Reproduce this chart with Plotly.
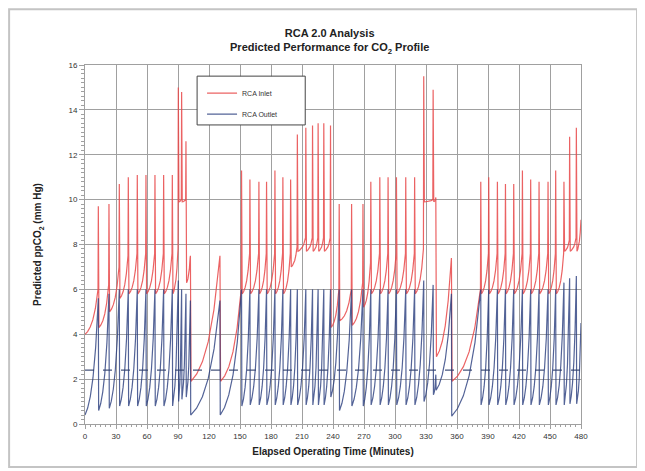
import plotly.graph_objects as go

# ---- Data ----
# Bed-switch events (minutes) and the values around each switch
switch_t = [12.9, 23.2, 33.2, 41.9, 50.6, 59.0, 67.7, 76.1, 84.5, 90.3, 93.5, 97.7, 102.0,
            130.6, 151.5, 159.6, 168.3, 175.7, 183.8, 191.5, 199.0, 205.5, 213.7, 220.2,
            225.6, 231.1, 237.6, 246.0, 258.0, 269.0, 276.6, 285.3, 293.3, 301.4, 310.4,
            319.0, 327.8, 336.9, 339.5, 354.6, 383.0, 390.7, 399.1, 406.9, 414.9, 423.3,
            431.3, 439.4, 448.1, 455.5, 463.5, 469.0, 475.5]
# inlet value just before the spike
inlet_pre = [6.0, 6.2, 7.0, 7.5, 7.6, 7.6, 7.6, 7.6, 7.6, 7.8, 10.0, 10.0, 7.4,
             7.4, 6.0, 7.6, 7.6, 7.6, 7.6, 7.6, 7.6, 7.9, 8.3, 8.3,
             8.3, 8.3, 8.3, 6.0, 6.0, 6.3, 7.2, 7.6, 7.6, 7.6, 7.6,
             7.6, 7.8, 10.0, 10.0, 7.3, 6.0, 7.6, 7.6, 7.6, 7.6, 7.6,
             7.6, 7.6, 7.6, 7.6, 7.6, 8.2, 8.3]
# inlet spike peak
inlet_peak = [9.7, 9.8, 10.7, 11.0, 11.1, 11.1, 11.1, 11.1, 11.1, 15.0, 14.8, 12.6, 7.5,
              7.5, 11.3, 10.9, 10.8, 10.8, 11.3, 11.0, 10.9, 12.9, 13.2, 13.3,
              13.4, 13.4, 13.3, 9.8, 9.8, 9.8, 10.8, 11.0, 11.0, 11.0, 11.0,
              11.0, 15.5, 14.9, 10.1, 7.4, 10.8, 11.0, 10.8, 10.7, 10.7, 11.3,
              10.9, 10.8, 10.8, 11.3, 10.8, 12.8, 13.2]
# inlet value just after the switch
inlet_floor = [4.3, 5.0, 5.6, 5.8, 5.8, 5.8, 5.8, 5.8, 5.8, 9.9, 9.9, 6.3, 1.9,
               1.9, 5.8, 5.8, 5.8, 5.8, 5.8, 5.8, 7.0, 7.7, 7.7, 7.7,
               7.7, 7.7, 4.3, 4.6, 4.4, 5.2, 5.8, 5.8, 5.8, 5.8, 5.8,
               5.8, 9.9, 9.9, 3.0, 1.9, 5.8, 5.8, 5.8, 5.8, 5.8, 5.8,
               5.8, 5.8, 5.8, 5.8, 7.7, 7.7, 7.7]
# outlet value just before the switch
outlet_peak = [5.6, 5.8, 6.0, 6.0, 6.0, 6.0, 6.0, 6.0, 6.0, 6.4, 6.0, 5.8, 5.5,
               5.5, 6.0, 6.0, 6.0, 6.0, 6.0, 6.0, 6.0, 6.0, 6.0, 6.0,
               6.0, 6.0, 6.0, 6.0, 6.0, 6.0, 6.0, 6.0, 6.0, 6.0, 6.0,
               6.0, 6.4, 6.2, 2.2, 5.8, 6.0, 6.0, 6.0, 6.0, 6.0, 6.0,
               6.0, 6.0, 6.0, 6.0, 6.3, 6.5, 6.6]
# outlet value just after the switch
outlet_floor = [0.6, 0.7, 0.8, 0.8, 0.8, 0.8, 0.8, 0.8, 0.8, 1.0, 1.1, 1.2, 0.4,
                0.4, 0.8, 0.85, 0.85, 0.85, 0.85, 0.85, 0.85, 0.85, 0.85, 0.85,
                0.85, 0.85, 1.2, 0.6, 0.8, 0.8, 0.85, 0.85, 0.85, 0.85, 0.85,
                0.85, 1.0, 1.3, 1.5, 0.35, 0.85, 0.85, 0.85, 0.85, 0.85, 0.85,
                0.85, 0.85, 0.85, 0.85, 0.85, 0.9, 0.9]
start_inlet, start_outlet = 4.0, 0.4
end_t, end_inlet, end_outlet = 480.0, 9.1, 4.5
limit_x = [0, 480]
limit_y = [2.4, 2.4]

x_ticks = [0, 30, 60, 90, 120, 150, 180, 210, 240, 270, 300, 330, 360, 390, 420, 450, 480]
y_ticks = [0, 2, 4, 6, 8, 10, 12, 14, 16]

# shape of a bed-loading rise between switches (fraction of time, fraction of rise)
RISE_U = [0.2, 0.4, 0.6, 0.8, 1.0]
RISE_F = [0.06, 0.16, 0.32, 0.58, 1.0]


def add_rise(xs, ys, t0, v0, t1, v1):
    for u, f in zip(RISE_U, RISE_F):
        xs.append(t0 + u * (t1 - t0))
        ys.append(v0 + f * (v1 - v0))


# inlet path
rx, ry = [0.0], [start_inlet]
tp, vp = 0.0, start_inlet
for ts, pre, pk, fl in zip(switch_t, inlet_pre, inlet_peak, inlet_floor):
    add_rise(rx, ry, tp, vp, ts - 0.3, pre)
    rx.append(ts); ry.append(pk)
    rx.append(ts + 0.6); ry.append(fl)
    tp, vp = ts + 0.6, fl
add_rise(rx, ry, tp, vp, end_t, end_inlet)

# outlet path
bx, by = [0.0], [start_outlet]
tp, vp = 0.0, start_outlet
for ts, pk, fl in zip(switch_t, outlet_peak, outlet_floor):
    add_rise(bx, by, tp, vp, ts, pk)
    bx.append(ts + 0.3); by.append(fl)
    tp, vp = ts + 0.3, fl
add_rise(bx, by, tp, vp, end_t, end_outlet)

fig = go.Figure()
fig.add_trace(go.Scatter(x=rx, y=ry, mode="lines", name="RCA Inlet",
                         line=dict(color="rgba(232,70,72,0.85)", width=1.2),
                         legendgroup="a"))
fig.add_trace(go.Scatter(x=bx, y=by, mode="lines", name="RCA Outlet",
                         line=dict(color="rgba(40,60,125,0.8)", width=1.2),
                         legendgroup="b"))
fig.add_trace(go.Scatter(x=limit_x, y=limit_y, mode="lines", showlegend=False,
                         line=dict(color="rgba(50,65,110,0.9)", width=1.2, dash="dash")))

axis_font = dict(family="Liberation Sans, Arial, sans-serif", size=8, color="#333")
# the page adds an 8px body margin, so the figure is sized to fit the window
W, H = 637, 463
fig.update_layout(
    width=W, height=H,
    margin=dict(l=77, r=64, t=57, b=47),
    paper_bgcolor="white", plot_bgcolor="white",
    font=dict(family="Liberation Sans, Arial, sans-serif", color="#222"),
    title=dict(text="<b>RCA 2.0 Analysis<br>Predicted Performance for CO<sub>2</sub> Profile</b>",
               x=0.505, xanchor="center", y=1 - 29 / H, yanchor="middle", yref="container",
               font=dict(size=11, color="#222")),
    showlegend=True,
    legend=dict(x=0.236, y=0.962, xanchor="left", yanchor="top",
                borderwidth=0, bgcolor="rgba(0,0,0,0)",
                font=dict(size=7, color="#333"), tracegroupgap=2,
                itemwidth=30),
    xaxis=dict(range=[0, 480], tickmode="array", tickvals=x_ticks, automargin=False,
               showgrid=True, gridcolor="#a0a0a0", gridwidth=1,
               showline=True, linecolor="#a0a0a0", mirror=True,
               ticks="outside", ticklen=4, tickcolor="#a0a0a0",
               tickfont=axis_font, zeroline=False,
               minor=dict(dtick=5, ticks="outside", ticklen=2, tickcolor="#a0a0a0", showgrid=False),
               title=dict(text="<b>Elapsed Operating Time (Minutes)</b>",
                          font=dict(size=10, color="#222"), standoff=8)),
    yaxis=dict(range=[0, 16], tickmode="array", tickvals=y_ticks, automargin=False,
               showgrid=True, gridcolor="#a0a0a0", gridwidth=1,
               showline=True, linecolor="#a0a0a0", mirror=True,
               ticks="outside", ticklen=5, tickcolor="#a0a0a0",
               tickfont=axis_font, zeroline=False,
               minor=dict(dtick=0.2, ticks="outside", ticklen=3, tickcolor="#a0a0a0", showgrid=False),
               title=dict(text="<b>Predicted ppCO<sub>2</sub> (mm Hg)</b>",
                          font=dict(size=10, color="#222"), standoff=24)),
)
# legend frame
fig.add_shape(type="rect", xref="paper", yref="paper",
              x0=0.226, x1=0.444, y0=0.833, y1=0.969,
              line=dict(color="#444", width=1), fillcolor="white", layer="above")
# outer chart frame
fig.add_shape(type="rect", xref="paper", yref="paper",
              x0=-0.153, x1=1.113, y0=-0.12, y1=1.155,
              line=dict(color="#c4c4c4", width=2), layer="below")
fig.write_html("out.html")
